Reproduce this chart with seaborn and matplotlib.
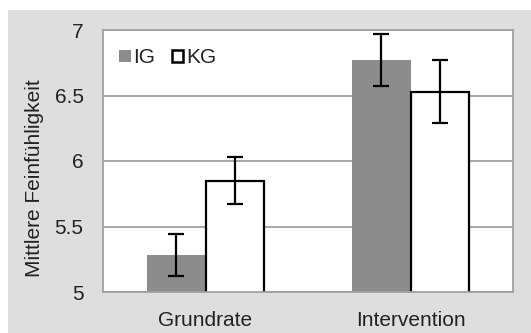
import pandas as pd
import seaborn as sns
from matplotlib import pyplot as plt
from matplotlib.patches import Rectangle

# values
phases = ['Grundrate', 'Intervention']
groups = ['IG', 'KG']
ig_means = [5.28, 6.77]
kg_means = [5.85, 6.53]
ig_err = [0.16, 0.20]
kg_err = [0.18, 0.24]

df = pd.DataFrame({
    'Phase': phases * 2,
    'Gruppe': ['IG'] * 2 + ['KG'] * 2,
    'Wert': ig_means + kg_means,
})
errs = {'IG': ig_err, 'KG': kg_err}

plt.rcParams['font.family'] = ['Liberation Sans', 'DejaVu Sans']
fs = 15
txt = '#222222'

fig = plt.figure(figsize=(5.31, 3.33), dpi=100)
fig.patch.set_facecolor('white')
fig.patches.append(Rectangle((8 / 531, 0), 1, 1 - 10 / 333, transform=fig.transFigure,
                             facecolor='#dedede', edgecolor='none', zorder=-10))
ax = fig.add_axes([103 / 531, 41 / 333, 410 / 531, 262 / 333])

sns.barplot(data=df, x='Phase', y='Wert', hue='Gruppe', order=phases, hue_order=groups,
            palette={'IG': '#8c8c8c', 'KG': 'white'}, width=0.566, errorbar=None, ax=ax)

for container, g in zip(ax.containers, groups):
    xs = []
    for bar in container:
        xs.append(bar.get_x() + bar.get_width() / 2)
        if g == 'KG':
            bar.set_edgecolor('black')
            bar.set_linewidth(1.6)
        else:
            bar.set_edgecolor('none')
        bar.set_zorder(2)
    ys = [b.get_height() for b in container]
    ax.errorbar(xs, ys, yerr=errs[g], fmt='none', ecolor='black', elinewidth=1.6,
                capsize=6, capthick=1.6, zorder=3)

ax.set_xlim(-0.5, 1.5)
ax.set_ylim(5, 7)
ax.set_yticks([5, 5.5, 6, 6.5, 7])
ax.set_yticklabels(['5', '5.5', '6', '6.5', '7'])
ax.set_facecolor('white')
ax.yaxis.grid(True, color='#a0a0a0', linewidth=1.3)
ax.set_axisbelow(True)
for s in ax.spines.values():
    s.set_color('#a0a0a0')
    s.set_linewidth(1.3)
ax.tick_params(axis='both', length=0, labelsize=fs, colors=txt)
ax.tick_params(axis='y', pad=14)
ax.tick_params(axis='x', pad=14)
ax.set_xlabel('')
ax.set_ylabel('Mittlere Feinfühligkeit', fontsize=fs, color=txt)
ax.yaxis.set_label_coords(-0.145, 0.435)

leg = ax.legend(loc='upper left', bbox_to_anchor=(0.04, 0.93), frameon=False, ncol=2,
                handlelength=0.55, handleheight=0.55, handletextpad=0.12, columnspacing=0.8,
                fontsize=fs, borderaxespad=0, borderpad=0)
for h, g in zip(leg.legend_handles, groups):
    if g == 'KG':
        h.set_edgecolor('black')
        h.set_linewidth(1.8)
for t in leg.get_texts():
    t.set_color(txt)

plt.savefig('out.png', dpi=100)
